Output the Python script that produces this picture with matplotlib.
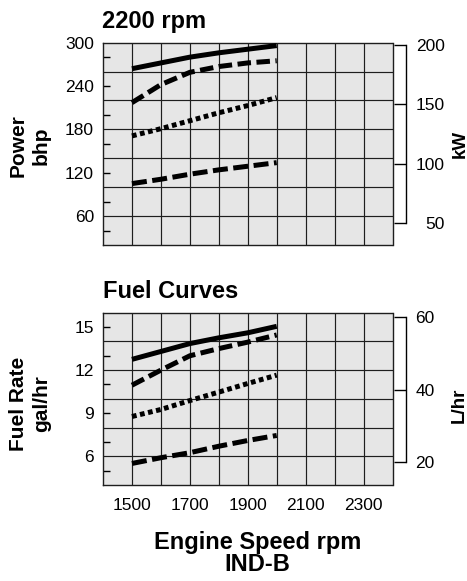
import matplotlib
matplotlib.use("Agg")
import matplotlib.pyplot as plt
import numpy as np

plt.rcParams["font.family"] = ["Liberation Sans", "DejaVu Sans"]

W, H = 467, 581

# engine speed samples (rpm)
rpm = [1500, 1600, 1700, 1800, 1900, 2000]

# power curves (bhp)
power_solid = [264, 272, 280, 286, 291, 296]
power_longdash = [217, 242, 259, 267, 272, 275]
power_dotted = [171, 181, 192, 203, 213, 224]
power_dash = [105, 111, 118, 124, 129, 134]

# fuel curves (gal/hr)
fuel_solid = [12.75, 13.3, 13.85, 14.25, 14.6, 15.05]
fuel_longdash = [10.95, 12.0, 13.0, 13.5, 13.95, 14.45]
fuel_dotted = [8.77, 9.26, 9.88, 10.47, 11.07, 11.65]
fuel_dash = [5.5, 5.9, 6.25, 6.7, 7.1, 7.45]

x_labels = [1500, 1700, 1900, 2100, 2300]
bhp_labels = [60, 120, 180, 240, 300]
bhp_marks = [40, 80, 120, 160, 200, 240, 280]
kw_labels = [50, 100, 150, 200]
gal_labels = [6, 9, 12, 15]
gal_marks = [5, 7, 9, 11, 13, 15]
lhr_labels = [20, 40, 60]


def px(x, y):
    return x / W, 1 - y / H


fig = plt.figure(figsize=(W / 100, H / 100), dpi=100)

ax1 = fig.add_axes([103 / W, 1 - 245 / H, 289.5 / W, 202.3 / H])
ax2 = fig.add_axes([103 / W, 1 - 485 / H, 289.5 / W, 172.3 / H])

# solid, long dash, square dots, dash
styles = [
    ("-", 3.6),
    ((0, (2.7, 1.1)), 3.6),
    ((0, (0.95, 0.7)), 3.6),
    ((0, (3.0, 1.1)), 3.6),
]


def base(ax, ylo, yhi, grid_y):
    ax.set_xlim(1400, 2400)
    ax.set_ylim(ylo, yhi)
    ax.set_facecolor("#e6e6e6")
    for gx in range(1500, 2400, 100):
        ax.axvline(gx, color="#1e1e1e", lw=0.85, zorder=1)
    for gy in grid_y:
        ax.axhline(gy, color="#1e1e1e", lw=0.85, zorder=1)
    for s in ax.spines.values():
        s.set_linewidth(1.0)
        s.set_color("#1e1e1e")
    ax.yaxis.remove_overlapping_locs = False


def curves(ax, series):
    for ys, (ls, lw) in zip(series, styles):
        ax.plot(rpm, ys, color="black", lw=lw, linestyle=ls,
                solid_capstyle="butt", dash_capstyle="butt", zorder=3)


def right_axis(ax, ylo, yhi, labels, ha, pad):
    tw = ax.twinx()
    tw.set_ylim(ylo, yhi)
    for k in ("left", "top", "bottom"):
        tw.spines[k].set_visible(False)
    tw.spines["right"].set_position(("outward", 9.4))
    tw.spines["right"].set_bounds(labels[0], labels[-1])
    tw.spines["right"].set_linewidth(1.0)
    tw.set_yticks(labels)
    tw.tick_params(axis="y", direction="in", length=8.6, width=1.0,
                   labelsize=12.5, pad=pad)
    for lbl in tw.get_yticklabels():
        lbl.set_horizontalalignment(ha)
    return tw


# power chart
base(ax1, 20, 300, range(60, 300, 40))
curves(ax1, [power_solid, power_longdash, power_dotted, power_dash])
ax1.set_xticks([])
ax1.set_yticks(bhp_labels)
ax1.set_yticks(bhp_marks, minor=True)
ax1.tick_params(axis="y", which="major", length=0, labelsize=12.5, pad=6.5)
ax1.tick_params(axis="y", which="minor", direction="in", length=5, width=1.0)
right_axis(ax1, 31.74, 201.93, kw_labels, "right", 28.1)

# fuel chart
base(ax2, 4, 16, range(6, 16, 2))
curves(ax2, [fuel_solid, fuel_longdash, fuel_dotted, fuel_dash])
ax2.set_xticks(x_labels)
ax2.tick_params(axis="x", length=0, labelsize=12.5, pad=9.4)
ax2.set_yticks(gal_labels)
ax2.set_yticks(gal_marks, minor=True)
ax2.tick_params(axis="y", which="major", length=0, labelsize=12.5, pad=6.5)
ax2.tick_params(axis="y", which="minor", direction="in", length=5, width=1.0)
right_axis(ax2, 13.74, 61.27, lhr_labels, "left", 7.2)

# titles and axis labels
fig.text(*px(101.7, 28.3), "2200 rpm", fontsize=17, fontweight="bold",
         va="baseline", ha="left")
fig.text(*px(103, 298.3), "Fuel Curves", fontsize=17, fontweight="bold",
         va="baseline", ha="left")
fig.text(*px(30, 146), "Power\nbhp", fontsize=15, fontweight="bold",
         rotation=90, ha="center", va="center", multialignment="center",
         linespacing=1.25)
fig.text(*px(30, 404), "Fuel Rate\ngal/hr", fontsize=15, fontweight="bold",
         rotation=90, ha="center", va="center", multialignment="center",
         linespacing=1.25)
fig.text(*px(460, 144), "kW", fontsize=13.5, fontweight="bold",
         rotation=90, ha="center", va="center")
fig.text(*px(459, 405), "L/hr", fontsize=13.5, fontweight="bold",
         rotation=90, ha="center", va="center")
fig.text(*px(257.5, 542), "Engine Speed rpm", fontsize=17,
         fontweight="bold", ha="center", va="center")
fig.text(*px(257.5, 564.5), "IND-B", fontsize=17, fontweight="bold",
         ha="center", va="center")

fig.savefig("out.png", dpi=100, facecolor="white")
